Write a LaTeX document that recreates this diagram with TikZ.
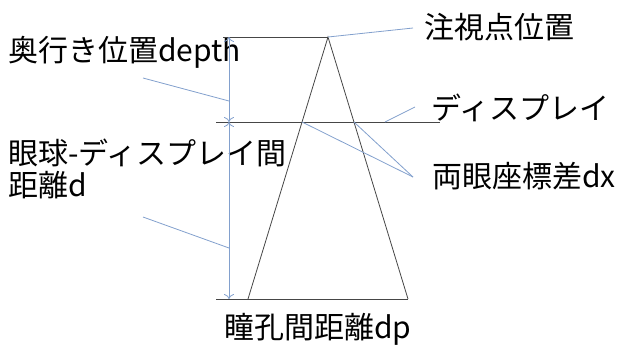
\documentclass[tikz,border=0pt]{standalone}
\usepackage{fontspec}
\setmainfont{Noto Sans CJK JP}
\usetikzlibrary{positioning, arrows.meta, calc}

\definecolor{frameGray}{RGB}{70,70,70}
\definecolor{calloutBlue}{RGB}{130,160,205}

\begin{document}
\begin{tikzpicture}[x=1pt, y=-1pt,
    frame/.style = {draw=frameGray, line width=0.8pt},
    callout/.style = {draw=calloutBlue, line width=0.8pt},
    dim/.style = {callout, {To[length=5pt, width=10pt]}-{To[length=5pt, width=10pt]}},
    lbl/.style = {inner sep=0pt, anchor=west, font=\fontsize{30}{30}\selectfont}]
            \useasboundingbox (0,0) rectangle (618,349);

            % geometry
            \coordinate (apex) at (328,37);
            \coordinate (topL) at (223,37);
            \coordinate (dispL) at (216,122);
            \coordinate (dispR) at (440,122);
            \coordinate (baseL) at (216,299);
            \coordinate (eyeL) at (248,299);
            \coordinate (eyeR) at (408,299);
            \coordinate (dxL) at ($(apex)!0.3244!(eyeL)$);
            \coordinate (dxR) at ($(apex)!0.3244!(eyeR)$);
            \coordinate (dimTop) at (229,37);
            \coordinate (dimMid) at (229,122);
            \coordinate (dimBot) at (229,299);

            % labels
            \node[lbl] (depth) at (8,52) {奥行き位置depth};
            \node[lbl] (eyedisp) at (8,153) {眼球-ディスプレイ間};
            \node[lbl] (dist) at (8,185) {距離d};
            \node[lbl] (gaze) at (424,27) {注視点位置};
            \node[lbl] (disp) at (431,108) {ディスプレイ};
            \node[lbl] (dx) at (432,176) {両眼座標差dx};
            \node[lbl] (dp) at (224,329) {瞳孔間距離dp};

            % callout ends
            \coordinate (depthEnd) at (143,78);
            \coordinate (distEnd) at (143,217);
            \coordinate (gazeEnd) at (413,28);
            \coordinate (dispEnd) at (415,107);
            \coordinate (dxEnd) at (413,177);

            \draw[frame] (topL) -- (apex);
            \draw[frame] (dispL) -- (dispR);
            \draw[frame] (baseL) -- (eyeR);
            \draw[frame] (eyeL) -- (apex) -- (eyeR);

            \draw[dim] (dimTop) -- (dimMid);
            \draw[dim] (dimMid) -- (dimBot);

            \draw[callout] (depthEnd) -- (229,101);
            \draw[callout] (distEnd) -- (229,248);
            \draw[callout] (apex) -- (gazeEnd);
            \draw[callout] (385,122) -- (dispEnd);
            \draw[callout] (dxL) -- (dxEnd);
            \draw[callout] (dxR) -- (dxEnd);
          \end{tikzpicture}
\end{document}
